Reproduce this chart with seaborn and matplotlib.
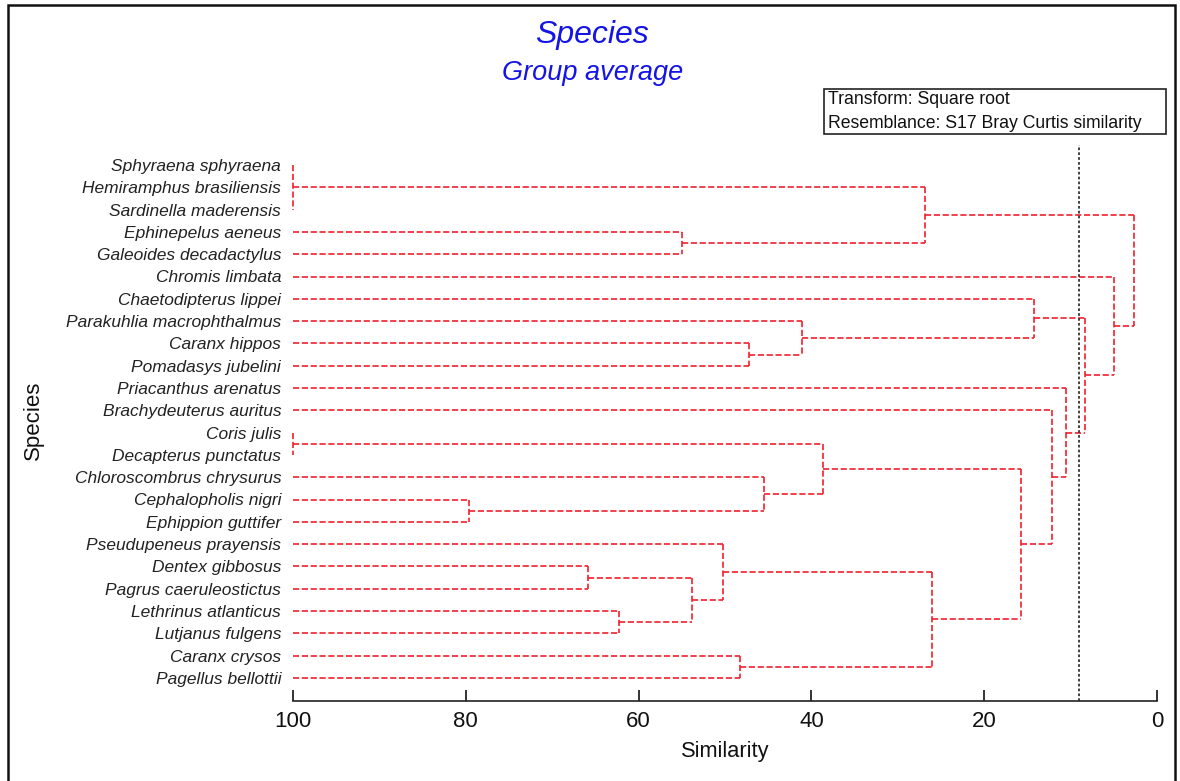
import numpy as np
import pandas as pd
import matplotlib.pyplot as plt
import seaborn as sns
from matplotlib.patches import Rectangle

# leaves, top to bottom as they appear in the dendrogram
species = [
    "Sphyraena sphyraena", "Hemiramphus brasiliensis", "Sardinella maderensis",
    "Ephinepelus aeneus", "Galeoides decadactylus", "Chromis limbata",
    "Chaetodipterus lippei", "Parakuhlia macrophthalmus", "Caranx hippos",
    "Pomadasys jubelini", "Priacanthus arenatus", "Brachydeuterus auritus",
    "Coris julis", "Decapterus punctatus", "Chloroscombrus chrysurus",
    "Cephalopholis nigri", "Ephippion guttifer", "Pseudupeneus prayensis",
    "Dentex gibbosus", "Pagrus caeruleostictus", "Lethrinus atlanticus",
    "Lutjanus fulgens", "Caranx crysos", "Pagellus bellottii",
]

# merges: node ids 0..23 are leaves, merge k gets id 24 + k
merge_members = [
    [0, 1, 2], [12, 13], [3, 4], [8, 9], [7, 27], [6, 28],
    [15, 16], [14, 30], [25, 31], [18, 19], [20, 21], [33, 34],
    [17, 35], [22, 23], [36, 37], [32, 38], [11, 39], [10, 40],
    [29, 41], [5, 42], [24, 26], [44, 43],
]
merge_similarity = [
    100.0, 100.0, 55.0, 47.2, 41.1, 14.2,
    79.6, 45.5, 38.6, 65.8, 62.3, 53.8,
    50.2, 48.3, 26.0, 15.7, 12.1, 10.5,
    8.3, 5.0, 26.8, 2.7,
]
cut_similarity = 9.0
sim_ticks = [100, 80, 60, 40, 20, 0]


def build_segments(n_leaves, members, sims):
    pos = {i: float(i) for i in range(n_leaves)}
    height = {i: 100.0 for i in range(n_leaves)}
    rows = []
    seg = 0
    for k, (kids, s) in enumerate(zip(members, sims)):
        node = n_leaves + k
        ys = [pos[c] for c in kids]
        for c in kids:
            rows += [(seg, height[c], pos[c]), (seg, s, pos[c])]
            seg += 1
        rows += [(seg, s, min(ys)), (seg, s, max(ys))]
        seg += 1
        pos[node] = (min(ys) + max(ys)) / 2
        height[node] = s
    return pd.DataFrame(rows, columns=["seg", "sim", "row"])


segments = build_segments(len(species), merge_members, merge_similarity)

sns.set_theme(style="white")
plt.rcParams["font.family"] = ["Liberation Sans", "DejaVu Sans"]

W, H = 1180, 781
fig = plt.figure(figsize=(W / 100, H / 100), dpi=100)
ax = fig.add_axes([293 / W, 1 - 701 / H, 864 / W, (701 - 145) / H])

sns.lineplot(data=segments, x="sim", y="row", units="seg", estimator=None,
             sort=False, color="#f0202c", linewidth=1.2, linestyle="--",
             dashes=(3.5, 2), legend=False, clip_on=False, ax=ax)
ax.axvline(cut_similarity, color="#333333", linewidth=1.3,
           linestyle=(0, (1.5, 1.2)), clip_on=False)

row_px = 22.3
ax.set_xlim(100, 0)
ax.set_ylim((701 - 165) / row_px, -20 / row_px)

ax.set_xticks(sim_ticks)
ax.set_xticklabels([str(t) for t in sim_ticks])
ax.tick_params(axis="x", direction="in", length=8, width=1.2, pad=7,
               labelsize=16, colors="#111111", bottom=True)
ax.set_yticks(range(len(species)))
ax.set_yticklabels(species, style="italic", fontsize=12.5, color="#222222")
ax.tick_params(axis="y", length=0, pad=8.5)
ax.set_xlabel("")
ax.set_ylabel("")
for side in ["top", "right", "left"]:
    ax.spines[side].set_visible(False)
ax.spines["bottom"].set_color("#222222")
ax.spines["bottom"].set_linewidth(1.2)

fig.text(0.502, 1 - 35 / H, "Species", color="#1414e6", fontsize=23,
         style="italic", ha="center", va="center")
fig.text(0.502, 1 - 73 / H, "Group average", color="#1414e6", fontsize=19.5,
         style="italic", ha="center", va="center")
fig.text(725 / W, 1 - 751 / H, "Similarity", fontsize=15.7, ha="center",
         va="center", color="#111111")
fig.text(33 / W, 1 - 420 / H, "Species", fontsize=16, rotation=90,
         ha="center", va="center", color="#111111")

fig.patches.append(Rectangle((824 / W, 1 - 134 / H), (1166 - 824) / W,
                             (134 - 89) / H, transform=fig.transFigure,
                             fill=False, edgecolor="#222222", linewidth=1.2))
fig.text(828 / W, 1 - 100 / H, "Transform: Square root", fontsize=12.7,
         ha="left", va="center", color="#111111")
fig.text(828 / W, 1 - 124 / H, "Resemblance: S17 Bray Curtis similarity",
         fontsize=12.7, ha="left", va="center", color="#111111")

fig.patches.append(Rectangle((8 / W, -0.05), (1175 - 8) / W, 1.05 - 5 / H,
                             transform=fig.transFigure, fill=False,
                             edgecolor="#111111", linewidth=1.8))

fig.savefig("out.png", dpi=100)
